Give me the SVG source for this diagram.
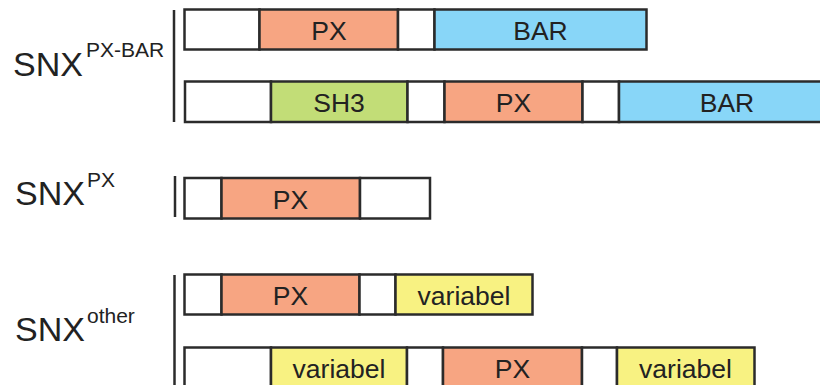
<svg xmlns="http://www.w3.org/2000/svg" width="820" height="385" viewBox="0 0 820 385">
  <style>
    .seg { stroke: #2b2b2b; stroke-width: 2.5; }
    .blank { fill: #ffffff; }
    .px { fill: #f7a582; }
    .bar { fill: #88d6f8; }
    .sh3 { fill: #c2dd77; }
    .var { fill: #f8f282; }
    .lbl { font-family: "Liberation Sans", Arial, sans-serif; font-size: 26.5px; fill: #222222; text-anchor: middle; }
    .name { font-family: "Liberation Sans", Arial, sans-serif; font-size: 34px; fill: #222222; }
    .sup { font-family: "Liberation Sans", Arial, sans-serif; font-size: 21px; fill: #222222; }
    .brace { stroke: #2b2b2b; stroke-width: 2.5; fill: none; }
  </style>

  <!-- family labels -->
  <g id="label-pxbar">
    <text class="name" x="13" y="76">SNX</text>
    <text class="sup" x="86" y="57">PX-BAR</text>
    <line class="brace" x1="174" y1="10" x2="174" y2="122"/>
  </g>
  <g id="label-px">
    <text class="name" x="15" y="205">SNX</text>
    <text class="sup" x="87" y="187">PX</text>
    <line class="brace" x1="175" y1="176" x2="175" y2="217"/>
  </g>
  <g id="label-other">
    <text class="name" x="15" y="341">SNX</text>
    <text class="sup" x="87" y="323">other</text>
    <line class="brace" x1="174.5" y1="275" x2="174.5" y2="390"/>
  </g>

  <!-- SNX PX-BAR, short form -->
  <g id="row1">
    <rect class="seg blank" x="184.5" y="9.5" width="75" height="40"/>
    <rect class="seg px" x="259.5" y="9.5" width="138.5" height="40"/>
    <rect class="seg blank" x="398" y="9.5" width="36.5" height="40"/>
    <rect class="seg bar" x="434.5" y="9.5" width="212" height="40"/>
    <text class="lbl" x="329" y="39.5">PX</text>
    <text class="lbl" x="540.5" y="39.5">BAR</text>
  </g>

  <!-- SNX PX-BAR with SH3 -->
  <g id="row2">
    <rect class="seg blank" x="185" y="81.5" width="86" height="40.5"/>
    <rect class="seg sh3" x="271" y="81.5" width="136.5" height="40.5"/>
    <rect class="seg blank" x="407.5" y="81.5" width="37" height="40.5"/>
    <rect class="seg px" x="444.5" y="81.5" width="138" height="40.5"/>
    <rect class="seg blank" x="582.5" y="81.5" width="36.5" height="40.5"/>
    <rect class="seg bar" x="619" y="81.5" width="215" height="40.5"/>
    <text class="lbl" x="339" y="112">SH3</text>
    <text class="lbl" x="513.5" y="112">PX</text>
    <text class="lbl" x="727" y="112">BAR</text>
  </g>

  <!-- SNX PX -->
  <g id="row3">
    <rect class="seg blank" x="184.5" y="178" width="37" height="40.5"/>
    <rect class="seg px" x="221.5" y="178" width="138.5" height="40.5"/>
    <rect class="seg blank" x="360" y="178" width="70" height="40.5"/>
    <text class="lbl" x="290.5" y="208.5">PX</text>
  </g>

  <!-- SNX other, short form -->
  <g id="row4">
    <rect class="seg blank" x="184.5" y="274.5" width="37" height="40"/>
    <rect class="seg px" x="221.5" y="274.5" width="138" height="40"/>
    <rect class="seg blank" x="359.5" y="274.5" width="36" height="40"/>
    <rect class="seg var" x="395.5" y="274.5" width="137" height="40"/>
    <text class="lbl" x="290.5" y="304.5">PX</text>
    <text class="lbl" x="464" y="304.5">variabel</text>
  </g>

  <!-- SNX other, long form -->
  <g id="row5">
    <rect class="seg blank" x="184.5" y="347.5" width="86.5" height="45"/>
    <rect class="seg var" x="271" y="347.5" width="136" height="45"/>
    <rect class="seg blank" x="407" y="347.5" width="36" height="45"/>
    <rect class="seg px" x="443" y="347.5" width="139" height="45"/>
    <rect class="seg blank" x="582" y="347.5" width="35" height="45"/>
    <rect class="seg var" x="617" y="347.5" width="137.5" height="45"/>
    <text class="lbl" x="339" y="377.5">variabel</text>
    <text class="lbl" x="512.5" y="377.5">PX</text>
    <text class="lbl" x="685.5" y="377.5">variabel</text>
  </g>

  <!-- no connectors in this figure -->
  <g id="connectors"/>
</svg>
